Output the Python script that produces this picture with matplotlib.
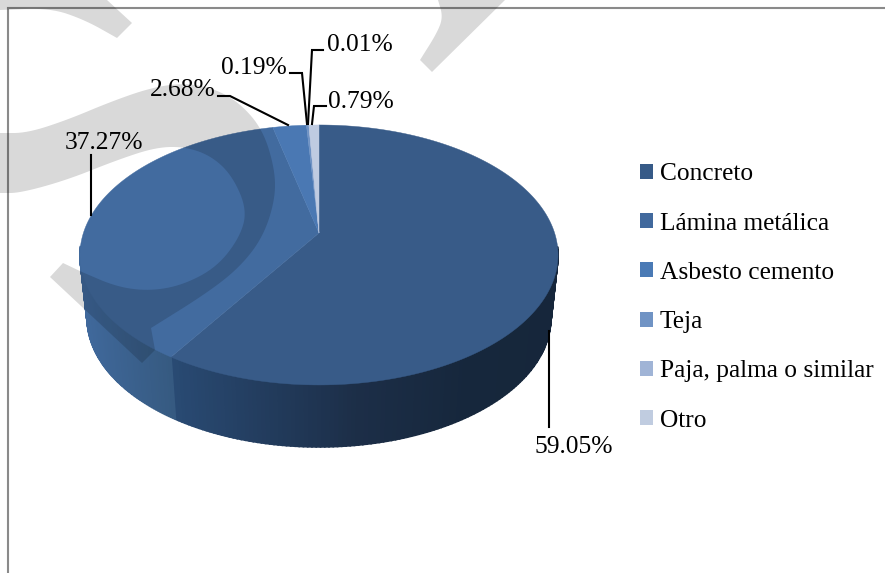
import numpy as np
import matplotlib
matplotlib.use('Agg')
import matplotlib.pyplot as plt
from matplotlib.patches import Patch

#%% data
categories = ['Concreto', 'Lámina metálica', 'Asbesto cemento', 'Teja', 'Paja, palma o similar', 'Otro']
values = [59.05, 37.27, 2.68, 0.19, 0.01, 0.79]
labels = ['59.05%', '37.27%', '2.68%', '0.19%', '0.01%', '0.79%']

#%% style
colors = ['#385b88', '#426b9f', '#4a78b3', '#7093c4', '#a0b4d6', '#bfcbe1']
legend_colors = ['#365a87', '#41699d', '#4a7ab5', '#7093c4', '#a0b4d6', '#c0cce0']
label_xy = [(574, 447), (104, 143), (183, 90), (254, 68), (360, 45), (361, 102)]
leaders = [[(549, 331), (549, 427)],
           [(91, 155), (91, 215)],
           [(218, 96), (230, 96), (288, 125)],
           [(290, 73), (302, 73), (307, 124)],
           [(323, 50), (312, 50), (308, 124)],
           [(326, 106), (314, 106), (312, 124)]]
side_x = [[175, 360, 470, 560], [80, 175]]
side_c = [[(0.16, 0.29, 0.45), (0.11, 0.18, 0.28), (0.086, 0.153, 0.235), (0.086, 0.15, 0.23)],
          [(0.25, 0.41, 0.61), (0.21, 0.35, 0.50)]]
font = 'Liberation Serif'

# perspective of the top disc, apex of the pie does not sit in the ellipse centre
cx, apex_y, a, c, d = 319, 233, -86.9, 0.169, 235.6

def top_xy(theta):
    x, y = np.sin(theta), np.cos(theta)
    return cx + d*x/(1 + c*y), (apex_y + a*y)/(1 + c*y)

def bottom_xy(theta):
    x, y = top_xy(theta)
    return cx + (x - cx)*0.97, 318 + (y - 255)*0.992

def chaikin(pts, n=3):
    pts = np.array(pts, float)
    for _ in range(n):
        q = 0.75*pts[:-1] + 0.25*pts[1:]
        r = 0.25*pts[:-1] + 0.75*pts[1:]
        mid = np.empty((2*len(q), 2))
        mid[0::2] = q
        mid[1::2] = r
        pts = np.vstack([pts[0], mid, pts[-1]])
    return pts

#%% figure
fig = plt.figure(figsize=(8.85, 5.73), dpi=100)
ax = fig.add_axes([0, 0, 1, 1])
ax.set_xlim(0, 885)
ax.set_ylim(573, 0)
ax.axis('off')

# chart frame, only left and top are there
ax.plot([8.3, 8.3, 885], [573, 7.5, 7.5], color='#8a8a8a', lw=1.5, zorder=1, solid_joinstyle='miter')

edges = 2*np.pi*np.cumsum([0] + values)/np.sum(values)

# side of the disc
for i in range(2):
    th = np.linspace(edges[i], edges[i+1], 240)
    th = th[np.cos(th) < -0.1]
    r, g, b = [np.interp(top_xy(th)[0], side_x[i], [col[k] for col in side_c[i]]) for k in range(3)]
    for j in range(len(th) - 1):
        tx, ty = top_xy(th[j:j+2])
        bx, by = bottom_xy(th[j:j+2])
        col = (r[j], g[j], b[j])
        ax.fill(np.r_[tx, bx[::-1]], np.r_[ty, by[::-1]], color=col, lw=1.2, zorder=2)

# top of the disc
for i in range(len(values)):
    n = max(3, int(400*values[i]/100))
    th = np.linspace(edges[i], edges[i+1], n)
    px, py = top_xy(th)
    ax.fill(np.r_[cx, px], np.r_[apex_y, py], color=colors[i], lw=0.3, zorder=3)

# data labels and leader lines
for txt, xy, line in zip(labels, label_xy, leaders):
    ax.text(xy[0], xy[1], txt, ha='center', va='center', family=font, fontsize=18.4, color='black', zorder=5)
    ax.plot([p[0] for p in line], [p[1] for p in line], color='black', lw=1.5, zorder=5, solid_joinstyle='miter')

handles = [Patch(facecolor=col, edgecolor='none', label=cat) for col, cat in zip(legend_colors, categories)]
ax.legend(handles=handles, loc='center left', bbox_to_anchor=(630/885, 1 - 297.5/573), frameon=False,
          prop={'family': font, 'size': 18.3}, handlelength=0.52, handleheight=0.52, handletextpad=0.25,
          labelspacing=1.075, borderpad=0, borderaxespad=0.4, labelcolor='black')

#%% grey watermark, multiplies everything below it
upper = chaikin([(0, 133), (27, 133), (67, 120), (110, 102), (150, 88), (183, 83), (213, 88), (240, 103),
                 (263, 130), (275, 170), (275, 200), (263, 237), (240, 267), (207, 293), (151, 328)])
lower = chaikin([(82, 272), (117, 287), (150, 291), (183, 285), (217, 267), (240, 237), (247, 210), (233, 177),
                 (213, 157), (187, 147), (157, 147), (117, 160), (67, 180), (20, 193), (0, 193)])
cap = np.array([(155, 350), (142, 363), (50, 277), (63, 263)], float)
mark = np.vstack([upper, cap, lower])
ax.fill(mark[:, 0], mark[:, 1], color='black', alpha=0.15, lw=0, zorder=6)

band = np.vstack([[(0, 0), (107, 0), (132, 23), (117, 38)], chaikin([(117, 38), (85, 20), (50, 8), (0, 10)])])
ax.fill(band[:, 0], band[:, 1], color='black', alpha=0.15, lw=0, zorder=6)

tip = np.vstack([[(505, 0), (432, 72), (420, 60)], chaikin([(420, 60), (437, 33), (443, 17), (438, 0)])])
ax.fill(tip[:, 0], tip[:, 1], color='black', alpha=0.15, lw=0, zorder=6)

fig.savefig('out.png', dpi=100, facecolor='white')
